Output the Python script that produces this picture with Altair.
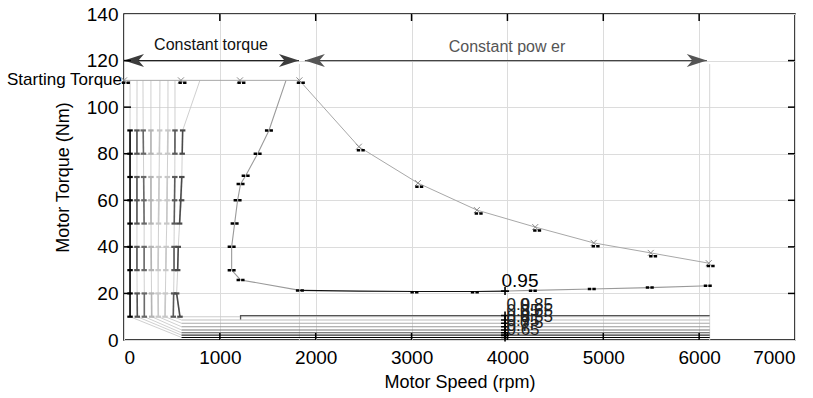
import altair as alt
import pandas as pd

# ---------------- data ----------------
x_ticks = [0, 1000, 2000, 3000, 4000, 5000, 6000, 7000]
y_ticks = [0, 20, 40, 60, 80, 100, 120, 140]

# torque-speed envelope (x markers)
env_rpm = [0, 594, 1210, 1830, 2450, 3066, 3681, 4290, 4900, 5495, 6100]
env_T = [111.5, 111.5, 111.5, 111.5, 83, 67.4, 55.8, 48.5, 41.7, 37.4, 33]
env_dash_rpm = [20, 610, 1225, 1845, 2470, 3080, 3700, 4310, 4920, 5520, 6120]
env_dash_T = [110.5, 110.5, 110.5, 110.5, 81.5, 65.8, 54.3, 47, 40.3, 36, 31.8]

# 0.95 efficiency contour
c95_rpm = [1690, 1512, 1394, 1269, 1216, 1185, 1154, 1123, 1123, 1216, 1835,
           1835, 2450, 3050, 3660, 3990,
           3990, 4265, 4880, 5485, 6100]
c95_T = [111.5, 90, 80, 70.5, 67, 60, 50, 40, 30, 25.8, 21.3,
         21.3, 21.0, 20.8, 20.8, 21.0,
         21.0, 21.3, 21.9, 22.5, 23.3]
c95_part = [0] * 11 + [1] * 5 + [2] * 5
c95_dash_rpm = [1512, 1394, 1269, 1216, 1185, 1154, 1123, 1123, 1216, 1835, 3030, 3660, 4265, 4880, 5485, 6090]
c95_dash_T = [90, 80, 70.5, 67, 60, 50, 40, 30, 25.8, 21.3, 20.5, 20.5, 21.2, 21.9, 22.5, 23.3]

# low-speed / low-torque contour fan
fan_T = [10, 20, 30, 40, 50, 60, 70, 80, 90, 111.5]
fan_x = [
    [63, 63, 63, 63, 63, 63, 63, 63, 63, 63],
    [139, 137, 135, 135, 135, 135, 135, 135, 135, 136],
    [212, 212, 210, 210, 210, 208, 205, 203, 200, 198],
    [289, 287, 285, 283, 282, 281, 281, 281, 281, 281],
    [358, 356, 356, 358, 360, 364, 366, 369, 372, 375],
    [428, 432, 436, 440, 446, 450, 452, 455, 458, 459],
    [514, 518, 522, 522, 524, 528, 530, 531, 532, 532],
    [584, 549, 560, 566, 580, 601, 603, 607, 612, 792],
]
fan_low = [1.1, 2.1, 3.1, 4.3, 5.7, 7.2, 8.6, 10]
fan_color = ["#000000", "#555555", "#6a6a6a", "#b4b4b4", "#c8c8c8", "#c8c8c8", "#5a5a5a", "#4a4a4a"]
fan_run_color = ["#000000", "#333333", "#555555", "#777777", "#999999", "#aaaaaa", "#bdbdbd", "#cccccc"]
fan_bars = [(0, 1), (2, 3), (4, 6), (7, 8)]
fan_knee_rpm = 600
fan_end_rpm = 6110

extra_rpm = [1216, 1216, 6110]
extra_T = [8.8, 10.5, 10.5]

# overlapping contour labels near 4000 rpm
lab_a_rpm = 3990
lab_a_T = [15, 12.5, 10, 8, 6, 4.5]
lab_a_txt = ["0.9", "0.85", "0.8", "0.75", "0.7", "0.65"]
lab_b_rpm = 4130
lab_b_T = [15, 12.5, 10, 7.5]
lab_b_txt = ["0.85", "0.65", "0.55", "0.5"]
plus_T = [1.1, 2.1, 3.1, 4.3, 5.7, 7.2, 8.6, 10.5, 21]

# annotations
arrow_from = [0, 1887]
arrow_to = [1825, 6080]
arrow_T = [120, 120]
arrow_line_col = ["#222222", "#444444"]
arrow_head_col = ["#3c3c3c", "#555555"]
note_txt = ["Constant torque", "Constant pow er"]
note_rpm = [908, 3995]
note_T = [126.8, 125.9]
note_col = ["#111111", "#555555"]
vline_rpm = [1830, 6110]

# ---------------- helpers ----------------
XS = alt.Scale(domain=[0, 7000], nice=False, zero=False)
YS = alt.Scale(domain=[0, 140], nice=False, zero=False)


def X(f):
    return alt.X(f, type="quantitative", scale=XS, title="Motor Speed (rpm)",
                 axis=alt.Axis(values=x_ticks, format="d", labelPadding=8, titlePadding=6))


def Y(f):
    return alt.Y(f, type="quantitative", scale=YS, title="Motor Torque (Nm)",
                 axis=alt.Axis(values=y_ticks, format="d", labelPadding=6, titlePadding=14))


# ---------------- frames ----------------
env = pd.DataFrame({"rpm": env_rpm, "T": env_T, "o": range(len(env_rpm))})
env_d = pd.DataFrame({"rpm": env_dash_rpm, "T": env_dash_T})
c95 = pd.DataFrame({"rpm": c95_rpm, "T": c95_T, "part": c95_part,
                    "col": ["#9a9a9a" if p != 1 else "#111111" for p in c95_part],
                    "o": range(len(c95_rpm))})
c95_d = pd.DataFrame({"rpm": c95_dash_rpm, "T": c95_dash_T})

run_rows, vert_rows, fan_pts, bar_rows = [], [], [], []
for i, xs in enumerate(fan_x):
    # horizontal run along the bottom
    run_rows.append({"id": i, "o": 0, "rpm": fan_end_rpm, "T": fan_low[i], "col": fan_run_color[i]})
    run_rows.append({"id": i, "o": 1, "rpm": fan_knee_rpm, "T": fan_low[i], "col": fan_run_color[i]})
    # faint diagonal + near-vertical part
    vert_rows.append({"id": i, "o": 0, "rpm": fan_knee_rpm, "T": fan_low[i]})
    for k, (r, t) in enumerate(zip(xs, fan_T)):
        vert_rows.append({"id": i, "o": k + 1, "rpm": r, "T": t})
        if t < 100:
            fan_pts.append({"rpm": r, "T": t, "col": fan_color[i]})
    pairs = [(0, 8)] if i == 0 else fan_bars
    for a, b in pairs:
        bar_rows.append({"r1": xs[a], "t1": fan_T[a], "r2": xs[b], "t2": fan_T[b], "col": fan_color[i]})
runs = pd.DataFrame(run_rows)
verts = pd.DataFrame(vert_rows)
fan_p = pd.DataFrame(fan_pts)
bars = pd.DataFrame(bar_rows)
extra = pd.DataFrame({"rpm": extra_rpm, "T": extra_T, "o": range(len(extra_rpm))})

labs = pd.DataFrame({"rpm": [lab_a_rpm] * len(lab_a_T) + [lab_b_rpm] * len(lab_b_T),
                     "T": lab_a_T + lab_b_T, "txt": lab_a_txt + lab_b_txt})
plus = pd.DataFrame({"rpm": [3975] * len(plus_T), "T": plus_T})

arr = pd.DataFrame({"a": arrow_from, "b": arrow_to, "T": arrow_T,
                    "lc": arrow_line_col, "hc": arrow_head_col})
notes = pd.DataFrame({"rpm": note_rpm, "T": note_T, "txt": note_txt, "col": note_col})
vl = pd.DataFrame({"rpm": vline_rpm, "lo": [0, 0], "hi": [118.5, 118.5]})
xt = pd.DataFrame({"v": x_ticks[1:-1]})
yt = pd.DataFrame({"v": y_ticks[1:-1]})

# ---------------- layers ----------------
base_grid = alt.Chart(env).mark_point(opacity=0).encode(x=X("rpm"), y=Y("T"))

vlines = alt.Chart(vl).mark_rule(color="#d6d6d6", strokeWidth=1).encode(
    x=X("rpm"), y=Y("lo"), y2="hi")

fan_vert = alt.Chart(verts).mark_line(strokeWidth=0.9, color="#c9c9c9").encode(
    x=X("rpm"), y=Y("T"), detail="id:N", order="o:Q")
fan_runs = alt.Chart(runs).mark_line(strokeWidth=1.1).encode(
    x=X("rpm"), y=Y("T"), detail="id:N", order="o:Q",
    color=alt.Color("col:N", scale=None))
fan_bar = alt.Chart(bars).mark_rule(strokeWidth=1.6).encode(
    x=X("r1"), x2="r2", y=Y("t1"), y2="t2", color=alt.Color("col:N", scale=None))
fan_marks = alt.Chart(fan_p).mark_point(
    shape="M-1,0L1,0", size=30, strokeWidth=2.2, filled=False, opacity=1).encode(
    x=X("rpm"), y=Y("T"), color=alt.Color("col:N", scale=None))
extra_line = alt.Chart(extra).mark_line(color="#555555", strokeWidth=1.3).encode(
    x=X("rpm"), y=Y("T"), order="o:Q")

c95_line = alt.Chart(c95).mark_line(strokeWidth=1.1).encode(
    x=X("rpm"), y=Y("T"), detail="part:N", order="o:Q",
    color=alt.Color("col:N", scale=None))
c95_marks = alt.Chart(c95_d).mark_point(
    shape="M-1,0L-0.15,0M0.15,0L1,0", size=64, strokeWidth=2.5, color="black",
    filled=False, opacity=1).encode(x=X("rpm"), y=Y("T"))

env_line = alt.Chart(env).mark_line(color="#a8a8a8", strokeWidth=1).encode(
    x=X("rpm"), y=Y("T"), order="o:Q")
env_x = alt.Chart(env).mark_point(
    shape="M-1,-1L1,1M-1,1L1,-1", size=36, strokeWidth=1, color="#8c8c8c",
    filled=False, opacity=1).encode(x=X("rpm"), y=Y("T"))
env_marks = alt.Chart(env_d).mark_point(
    shape="M-1,0L-0.15,0M0.15,0L1,0", size=64, strokeWidth=2.5, color="black",
    filled=False, opacity=1).encode(x=X("rpm"), y=Y("T"))

plus_marks = alt.Chart(plus).mark_point(
    shape="M-1,0L1,0M0,-1L0,1", size=64, strokeWidth=1.6, color="black",
    filled=False, opacity=1).encode(x=X("rpm"), y=Y("T"))
lab_text = alt.Chart(labs).mark_text(
    align="left", baseline="middle", fontSize=17, color="#222222").encode(
    x=X("rpm"), y=Y("T"), text="txt:N")
lab95 = alt.Chart(pd.DataFrame({"rpm": [3990], "T": [21], "txt": ["0.95"]})).mark_text(
    align="left", baseline="alphabetic", fontSize=19, dx=-5, dy=-4, color="black").encode(
    x=X("rpm"), y=Y("T"), text="txt:N")
start_text = alt.Chart(pd.DataFrame({"rpm": [0], "T": [111.5], "txt": ["Starting Torque"]})).mark_text(
    align="right", baseline="middle", fontSize=17, dx=-2, color="black").encode(
    x=X("rpm"), y=Y("T"), text="txt:N")

arr_lines = alt.Chart(arr).mark_rule(strokeWidth=1.2).encode(
    x=X("a"), x2="b", y=Y("T"), color=alt.Color("lc:N", scale=None))
head_l = alt.Chart(arr).mark_point(
    shape="M0,0L2,-0.65L1.45,0L2,0.65Z", size=400, filled=True, opacity=1, strokeWidth=0).encode(
    x=X("a"), y=Y("T"), color=alt.Color("hc:N", scale=None))
head_r = alt.Chart(arr).mark_point(
    shape="M0,0L-2,-0.65L-1.45,0L-2,0.65Z", size=400, filled=True, opacity=1, strokeWidth=0).encode(
    x=X("b"), y=Y("T"), color=alt.Color("hc:N", scale=None))
note_text = alt.Chart(notes).mark_text(
    align="center", baseline="middle", fontSize=16).encode(
    x=X("rpm"), y=Y("T"), text="txt:N", color=alt.Color("col:N", scale=None))

tick_b = alt.Chart(xt).mark_rule(color="black", strokeWidth=1.5).encode(
    x=X("v"), y=alt.value(326), y2=alt.value(319))
tick_t = alt.Chart(xt).mark_rule(color="black", strokeWidth=1.5).encode(
    x=X("v"), y=alt.value(0), y2=alt.value(7))
tick_l = alt.Chart(yt).mark_rule(color="black", strokeWidth=1.5).encode(
    y=Y("v"), x=alt.value(0), x2=alt.value(7))
tick_r = alt.Chart(yt).mark_rule(color="black", strokeWidth=1.5).encode(
    y=Y("v"), x=alt.value(671), x2=alt.value(664))

chart = alt.layer(
    base_grid, vlines, fan_vert, fan_runs, extra_line, fan_bar, fan_marks,
    c95_line, c95_marks, env_line, env_x, env_marks, plus_marks, lab_text, lab95,
    start_text, arr_lines, head_l, head_r, note_text, tick_b, tick_t, tick_l, tick_r
).properties(
    width=671, height=326,
    padding={"left": 124, "top": 14, "right": 18, "bottom": 58},
    autosize=alt.AutoSizeParams(type="none"),
    background="white",
).configure(
    font="Liberation Sans",
).configure_view(
    stroke="black", strokeWidth=1.5,
).configure_axis(
    grid=True, gridColor="#dcdcdc", gridWidth=1,
    domain=False, ticks=False, tickSize=0,
    labelFontSize=19, titleFontSize=18, titleFontWeight="normal",
    labelColor="black", titleColor="black", labelFont="Liberation Sans",
    titleFont="Liberation Sans",
)

chart.save("out.html", embed_options={"renderer": "svg", "actions": False})
